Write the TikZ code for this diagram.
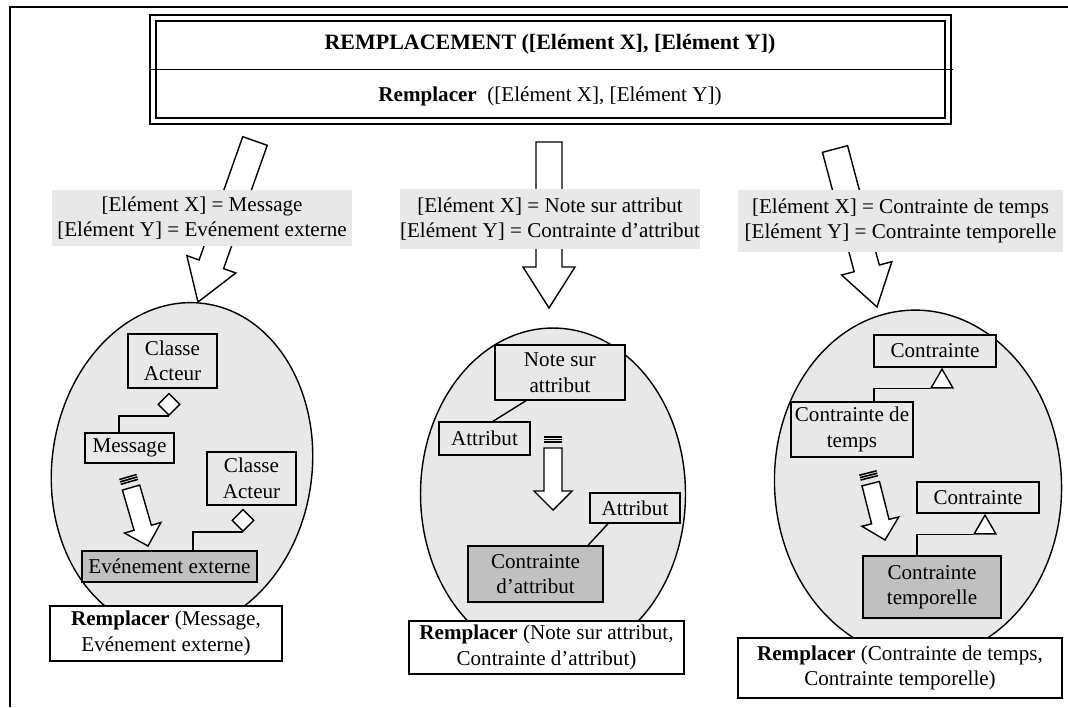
\documentclass[tikz,border=0pt]{standalone}
\usepackage{fontspec}
\setmainfont{Liberation Serif}
\usetikzlibrary{calc, positioning, shapes.geometric}

\definecolor{lightfill}{RGB}{232,232,232}
\definecolor{darkfill}{RGB}{192,192,192}

% block arrow: tail, tip, shaft half width, head half width, head length
\newcommand{\blockarrow}[5]{%
  \coordinate (ba-base) at ($(#2)!#5!(#1)$);
  \draw[line width=0.8pt, fill=white]
    ($(#1)!#3!90:(#2)$) -- ($(ba-base)!#3!90:(#2)$) -- ($(ba-base)!#4!90:(#2)$)
    -- (#2) -- ($(ba-base)!#4!-90:(#2)$) -- ($(ba-base)!#3!-90:(#2)$)
    -- ($(#1)!#3!-90:(#2)$) -- cycle;
}
% small arrow with a striped tail
\newcommand{\stripedarrow}[2]{%
  \coordinate (sa-tail) at ($(#1)!0.22cm!(#2)$);
  \blockarrow{sa-tail}{#2}{0.18cm}{0.38cm}{0.38cm}
  \foreach \d in {0cm,0.05cm,0.1cm}{
    \coordinate (sa-s) at ($(#1)!\d!(#2)$);
    \draw[line width=0.9pt] ($(sa-s)!0.18cm!90:(#2)$) -- ($(sa-s)!0.18cm!-90:(#2)$);
  }
}

\begin{document}
\begin{tikzpicture}[x=0.02cm, y=-0.02cm,
    every node/.style={font=\fontsize{12}{14.5}\selectfont},
    box/.style={rectangle, draw, line width=0.8pt, fill=lightfill, align=center, inner sep=2pt},
    repl/.style={box, fill=darkfill},
    egg/.style={ellipse, draw, line width=0.8pt, fill=lightfill, inner sep=0pt},
    result/.style={rectangle, draw, line width=0.8pt, fill=white, align=center, inner sep=2pt},
    lbl/.style={fill=lightfill, align=center, inner sep=0pt},
    agg/.style={diamond, draw, line width=0.8pt, fill=white, inner sep=0pt,
                minimum width=0.44cm, minimum height=0.44cm},
    gen/.style={regular polygon, regular polygon sides=3, draw, line width=0.8pt,
                fill=white, inner sep=0pt, minimum size=0.5cm},
    link/.style={line width=0.8pt}
]
\useasboundingbox (0,0) rectangle (1068,707);
\draw[line width=1pt] (1068,7) -- (10,7) -- (10,707);

% pattern box
\node[draw, double, line width=1.1pt, double distance=0.07cm, minimum width=15.9cm,
      minimum height=2.06cm, inner sep=0pt] (frame) at (550.5,69.5) {};
\draw[line width=1.1pt] ([xshift=-0.06cm]frame.west) -- ([xshift=0.08cm]frame.east);
\node[font=\fontsize{12.5}{15}\selectfont\bfseries] (title) at (550,44)
    {REMPLACEMENT ([Elément X], [Elément Y])};
\node (sub) at (550,96) {\textbf{Remplacer}~ ([Elément X], [Elément Y])};

% ellipses
\node[egg, minimum width=5.2cm, minimum height=6.6cm, rotate=-8] (e1) at (182,467) {};
\node[egg, minimum width=5.3cm, minimum height=6.64cm] (e2) at (553,494) {};
\node[egg, minimum width=5.74cm, minimum height=6.96cm, rotate=3] (e3) at (918,484) {};

% big arrows
\coordinate (a1t) at (255,141); \coordinate (a1h) at (198,302);
\coordinate (a2t) at (549,142); \coordinate (a2h) at (549,308);
\coordinate (a3t) at (835,149); \coordinate (a3h) at (877,307);
\blockarrow{a1t}{a1h}{0.26cm}{0.52cm}{0.8cm}
\blockarrow{a2t}{a2h}{0.26cm}{0.52cm}{0.82cm}
\blockarrow{a3t}{a3h}{0.26cm}{0.52cm}{0.8cm}

\node[lbl, minimum width=6cm, minimum height=1.12cm] (lab1) at (202,218)
    {[Elément X] = Message\\{}[Elément Y] = Evénement externe};
\node[lbl, minimum width=6cm, minimum height=1.2cm] (lab2) at (550,219)
    {[Elément X] = Note sur attribut\\{}[Elément Y] = Contrainte d’attribut};
\node[lbl, minimum width=6.5cm, minimum height=1.24cm] (lab3) at (900.5,221)
    {[Elément X] = Contrainte de temps\\{}[Elément Y] = Contrainte temporelle};

% message -> evenement externe
\node[box, minimum width=1.78cm, minimum height=1.08cm] (act1) at (172.5,361) {Classe\\Acteur};
\node[agg, anchor=north] (d1) at ([xshift=-0.07cm, yshift=-0.08cm]act1.south) {};
\node[box, minimum width=1.78cm, minimum height=0.6cm] (msg) at (129.5,448) {Message};
\node[box, minimum width=1.78cm, minimum height=1.06cm] (act2) at (251.5,478.5) {Classe\\Acteur};
\node[agg, anchor=north] (d2) at ([xshift=-0.17cm, yshift=-0.06cm]act2.south) {};
\node[repl, minimum width=3.5cm, minimum height=0.62cm] (evt) at (169.5,566.5) {Evénement externe};
\draw[link] (d1.south) -| ([xshift=-0.21cm]msg.north);
\draw[link] (d2.south) -| ([xshift=0.47cm]evt.north);
\coordinate (s1t) at (128,477); \coordinate (s1h) at (148,546);
\stripedarrow{s1t}{s1h}

% note sur attribut -> contrainte d'attribut
\node[box, minimum width=2.6cm, minimum height=1.1cm] (note) at (560,372.5) {Note sur\\attribut};
\node[box, minimum width=1.82cm, minimum height=0.66cm] (att1) at (484.5,438.5) {Attribut};
\draw[link] ([xshift=-0.68cm]note.south) -- ([xshift=0.17cm]att1.north);
\node[box, minimum width=1.8cm, minimum height=0.6cm] (att2) at (635,508) {Attribut};
\node[repl, minimum width=2.7cm, minimum height=1.12cm] (catt) at (535.5,574) {Contrainte\\d’attribut};
\draw[link] ([xshift=-0.54cm]att2.south) -- ([xshift=1.05cm]catt.north);
\coordinate (s2t) at (553,437); \coordinate (s2h) at (553,510);
\stripedarrow{s2t}{s2h}

% contrainte de temps -> contrainte temporelle
\node[box, minimum width=2.44cm, minimum height=0.64cm] (cst1) at (935,351) {Contrainte};
\node[gen, anchor=corner 1] (t1) at ([xshift=0.14cm]cst1.south) {};
\node[box, minimum width=2.44cm, minimum height=1.1cm] (ctmp) at (852,429.5) {Contrainte de\\temps};
\draw[link] (t1.corner 2) -| ([xshift=0.44cm]ctmp.north);
\node[box, minimum width=2.44cm, minimum height=0.62cm] (cst2) at (978,497.5) {Contrainte};
\node[gen, anchor=corner 1] (t2) at ([xshift=0.14cm]cst2.south) {};
\node[repl, minimum width=2.76cm, minimum height=1.24cm] (ctpl) at (932,587) {Contrainte\\temporelle};
\draw[link] (t2.corner 2) -| ([xshift=-0.3cm]ctpl.north);
\coordinate (s3t) at (868,473); \coordinate (s3h) at (885,540);
\stripedarrow{s3t}{s3h}

% results
\node[result, minimum width=4.64cm, minimum height=1.1cm] (r1) at (166,633.5)
    {\textbf{Remplacer} (Message,\\ Evénement externe)};
\node[result, minimum width=5.5cm, minimum height=1.06cm] (r2) at (546.5,647.5)
    {\textbf{Remplacer} (Note sur attribut,\\ Contrainte d’attribut)};
\node[result, minimum width=6.48cm, minimum height=1.2cm] (r3) at (900,668)
    {\textbf{Remplacer} (Contrainte de temps,\\ Contrainte temporelle)};
\end{tikzpicture}
\end{document}
